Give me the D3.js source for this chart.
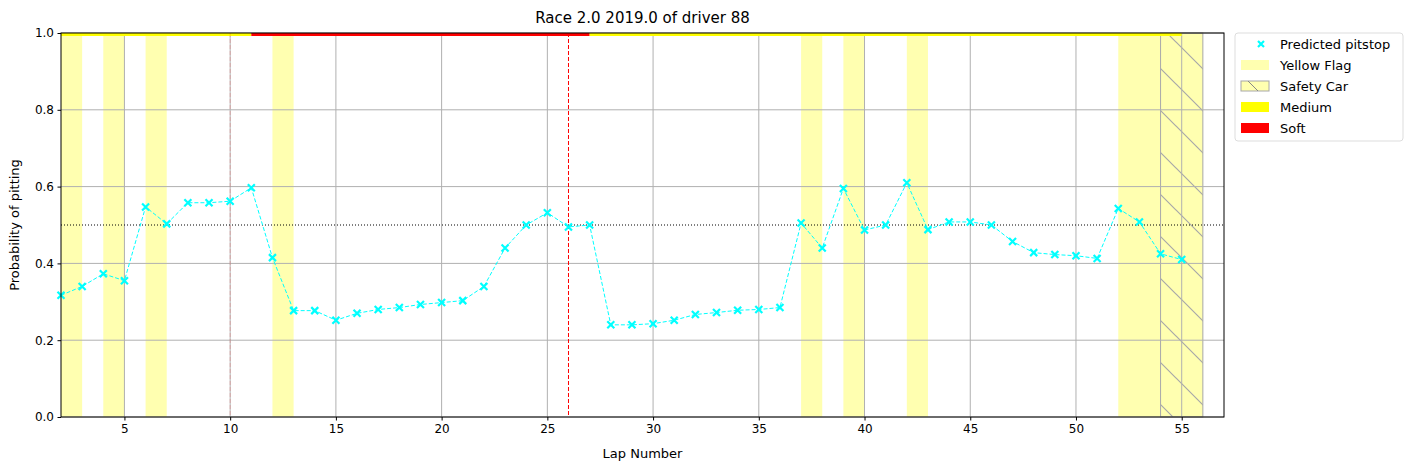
<!DOCTYPE html><html><head><meta charset="utf-8"><script src="https://cdn.jsdelivr.net/npm/d3@7"></script>
<style>body{margin:0;background:#fff;font-family:"DejaVu Sans",sans-serif}</style></head><body><svg id="c" width="1413" height="470"></svg>
<script>
const laps=d3.range(2,56);
const probs=[0.317,0.34,0.373,0.355,0.547,0.503,0.558,0.558,0.562,0.597,0.415,0.277,0.277,0.252,0.27,0.28,0.285,0.293,0.298,0.303,0.34,0.44,0.5,0.532,0.495,0.5,0.24,0.24,0.243,0.252,0.267,0.272,0.278,0.28,0.285,0.505,0.44,0.595,0.487,0.5,0.61,0.488,0.508,0.508,0.5,0.457,0.428,0.423,0.42,0.413,0.543,0.508,0.425,0.41];
const yellowFlags=[[2,3],[4,5],[6,7],[12,13],[37,38],[39,40],[42,43],[52,54]];
const safetyCar=[[54,56]];
const tyres=[{s:2,e:11,c:"#ffff00"},{s:11,e:27,c:"#ff0000"},{s:27,e:55,c:"#ffff00"}];
const pits=[{lap:10,op:0.2},{lap:26,op:1}];
const xTicks=[5,10,15,20,25,30,35,40,45,50,55];
const yTicks=[0,0.2,0.4,0.6,0.8,1.0];
const svg=d3.select("#c");
const L=61,R=1224,T=33,B=417;
const x=d3.scaleLinear().domain([2,57]).range([L,R]);
const y=d3.scaleLinear().domain([0,1]).range([B,T]);
const defs=svg.append("defs");
const p=defs.append("pattern").attr("id","h").attr("patternUnits","userSpaceOnUse").attr("width",42).attr("height",42);
p.append("path").attr("d","M0,0L42,42M-21,21L21,63M21,-21L63,21").attr("stroke","#a8a8a8").attr("stroke-width",1.2).attr("fill","none");
svg.append("g").selectAll("rect").data(yellowFlags).join("rect").attr("x",d=>x(d[0])).attr("width",d=>x(d[1])-x(d[0])).attr("y",T).attr("height",B-T).attr("fill","#ffffb0");
svg.append("g").selectAll("rect").data(safetyCar).join("rect").attr("x",d=>x(d[0])).attr("width",d=>x(d[1])-x(d[0])).attr("y",T).attr("height",B-T).attr("fill","#ffffb0").attr("stroke","#a8a8a8");
svg.append("g").selectAll("rect").data(safetyCar).join("rect").attr("x",d=>x(d[0])).attr("width",d=>x(d[1])-x(d[0])).attr("y",T).attr("height",B-T).attr("fill","url(#h)");
const g=svg.append("g").attr("stroke","#b0b0b0").attr("stroke-width",1);
xTicks.forEach(t=>g.append("line").attr("x1",x(t)).attr("x2",x(t)).attr("y1",T).attr("y2",B));
yTicks.forEach(t=>g.append("line").attr("x1",L).attr("x2",R).attr("y1",y(t)).attr("y2",y(t)));
svg.append("g").selectAll("rect").data(tyres).join("rect").attr("x",d=>x(d.s)).attr("width",d=>x(d.e)-x(d.s)).attr("y",T).attr("height",3).attr("fill",d=>d.c);
svg.append("line").attr("x1",L).attr("x2",R).attr("y1",y(0.5)).attr("y2",y(0.5)).attr("stroke","#000").attr("stroke-dasharray","1,2");
svg.append("g").selectAll("line").data(pits).join("line").attr("x1",d=>x(d.lap)).attr("x2",d=>x(d.lap)).attr("y1",T).attr("y2",B).attr("stroke","red").attr("stroke-opacity",d=>d.op).attr("stroke-dasharray","4,2");
const pts=laps.map((l,i)=>[l,probs[i]]);
svg.append("path").datum(pts).attr("d",d3.line().x(d=>x(d[0])).y(d=>y(d[1]))).attr("fill","none").attr("stroke","#00ffff").attr("stroke-dasharray","4,2");
const cross=d=>`M${x(d[0])-3.5},${y(d[1])-3.5}l7,7m0,-7l-7,7`;
svg.append("g").selectAll("path").data(pts).join("path").attr("d",cross).attr("stroke","#00ffff").attr("stroke-width",2.2);
svg.append("rect").attr("x",L).attr("y",T).attr("width",R-L).attr("height",B-T).attr("fill","none").attr("stroke","#000");
const xa=svg.append("g").attr("transform",`translate(0,${B})`).call(d3.axisBottom(x).tickValues(xTicks).tickSize(3.5).tickPadding(3.5));
const ya=svg.append("g").attr("transform",`translate(${L},0)`).call(d3.axisLeft(y).tickValues(yTicks).tickFormat(d3.format(".1f")).tickSize(3.5).tickPadding(3.5));
[xa,ya].forEach(a=>{a.select(".domain").remove();a.selectAll("text").attr("font-size",12).attr("font-family","DejaVu Sans").attr("fill","#000");});
svg.append("text").attr("x",(L+R)/2).attr("y",23).attr("text-anchor","middle").attr("font-size",15).text("Race 2.0 2019.0 of driver 88");
svg.append("text").attr("x",(L+R)/2).attr("y",458).attr("text-anchor","middle").attr("font-size",13).text("Lap Number");
svg.append("text").attr("transform",`translate(19,${(T+B)/2}) rotate(-90)`).attr("text-anchor","middle").attr("font-size",13).text("Probability of pitting");
const lg=svg.append("g").attr("transform","translate(1235,33)");
lg.append("rect").attr("width",168).attr("height",108).attr("rx",3).attr("fill","#fff").attr("stroke","#ddd");
const items=[{t:"Predicted pitstop",k:"x"},{t:"Yellow Flag",f:"#ffffb0"},{t:"Safety Car",f:"#ffffb0",s:1},{t:"Medium",f:"#ffff00"},{t:"Soft",f:"#ff0000"}];
items.forEach((it,i)=>{const yy=11+i*21;
 if(it.k){lg.append("path").attr("d",`M23,${yy-3}l6,6m0,-6l-6,6`).attr("stroke","#00ffff").attr("stroke-width",2.2);}
 else{lg.append("rect").attr("x",6).attr("y",yy-5).attr("width",28).attr("height",10).attr("fill",it.f).attr("stroke",it.s?"#a8a8a8":"none");
  if(it.s)lg.append("path").attr("d",`M13,${yy-5}l10,10`).attr("stroke","#888");}
 lg.append("text").attr("x",45).attr("y",yy+4.5).attr("font-size",13).text(it.t);});
</script></body></html>
